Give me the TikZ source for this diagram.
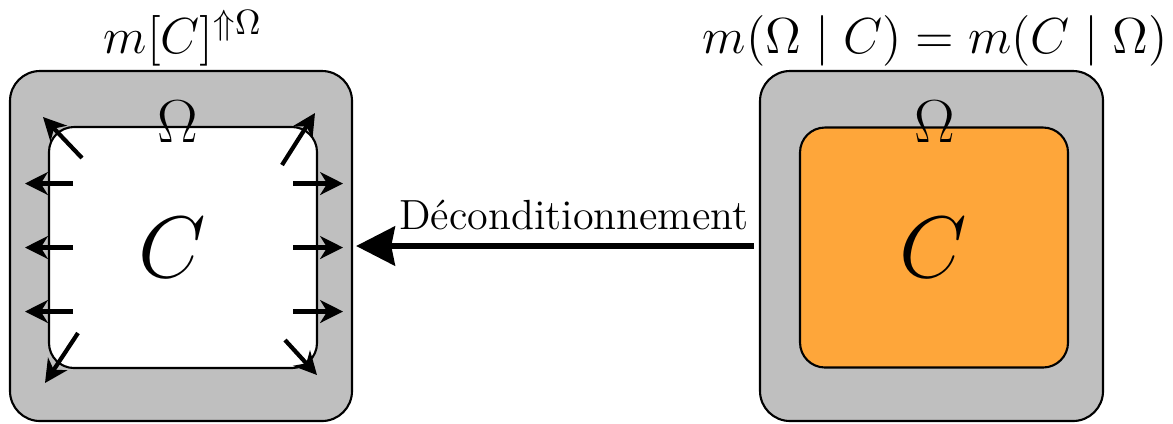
\documentclass[tikz,border=0pt]{standalone}
\usepackage{amsmath,amssymb}
\usetikzlibrary{arrows.meta,positioning}
\definecolor{omegagray}{RGB}{191,191,191}
\definecolor{condorange}{RGB}{254,166,58}

\begin{document}
\begin{tikzpicture}[>={Stealth[length=6.5pt,width=6.5pt,inset=2pt]},
  frame/.style={draw,line width=0.6pt,rounded corners=0.3cm,fill=omegagray,minimum width=3.42cm,minimum height=3.5cm,inner sep=0pt},
  cond/.style={draw,line width=0.6pt,rounded corners=0.25cm,minimum width=2.68cm,minimum height=2.41cm,inner sep=0pt},
  spread/.style={->,line width=1.2pt},
  bigC/.style={font=\fontsize{23}{28}\selectfont}]
  \useasboundingbox (0,0) rectangle (11.73,4.23);
  % left: deconditioned
  \node[frame] (omegaL) at (1.81,1.77) {};
  \node[cond,fill=white] (condL) at (1.83,1.755) {};
  \node (omL) at (1.78,3.01) {\LARGE$\Omega$};
  \node[bigC] (cL) at (1.72,1.75) {$C$};
  \node[anchor=base] (titleL) at (1.83,3.70) {\Large$m[C]^{\Uparrow\Omega}$};
  \foreach \a/\b/\c/\d in {-1.10/0.64/-1.58/0.64, -1.10/0/-1.58/0, -1.10/-0.64/-1.58/-0.64,
      1.10/0.64/1.60/0.64, 1.10/0/1.60/0, 1.10/-0.64/1.60/-0.64,
      -1.01/0.895/-1.40/1.305, 0.99/0.825/1.32/1.345,
      -1.05/-0.855/-1.38/-1.355, 1.02/-0.925/1.34/-1.275}
    \draw[spread,shift={(condL)}] (\a,\b) -- (\c,\d);
  % right: conditioned
  \node[frame,minimum width=3.43cm] (omegaR) at (9.315,1.77) {};
  \node[cond,fill=condorange,minimum height=2.40cm] (condR) at (9.34,1.755) {};
  \node (omR) at (9.35,3.01) {\LARGE$\Omega$};
  \node[bigC] (cR) at (9.33,1.75) {$C$};
  \node[anchor=base] (titleR) at (9.35,3.70) {\Large$m(\Omega\mid C)=m(C\mid\Omega)$};
  % deconditioning
  \draw[-{Stealth[length=11pt,width=11pt,inset=1pt]},line width=1.9pt,shorten <=0.05cm,shorten >=0.03cm]
    (omegaR.west) -- (omegaL.east)
    node[pos=0,above left=0.13cm and 0.07cm,inner sep=0pt] {\large D\'econditionnement};
\end{tikzpicture}
\end{document}
